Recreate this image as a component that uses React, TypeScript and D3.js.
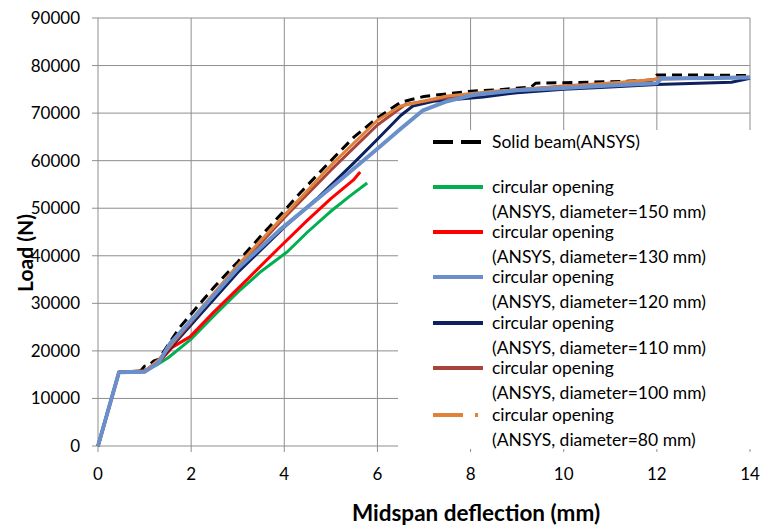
import React from 'react';
import * as d3 from 'd3';

// deflection (mm), load (N)
const solidBeam: [number, number][] = [
  [0, 0], [0.45, 15500], [0.9, 15600], [1.0, 16800], [1.1, 17000], [1.2, 17900], [1.3, 18200],
  [1.76, 25000], [2.5, 33500], [3.0, 38700], [3.5, 44200], [4.0, 49500], [4.34, 53200],
  [5.0, 60000], [5.5, 65000], [6.0, 69000], [6.5, 72300], [7.0, 73500], [8.0, 74600],
  [8.6, 74900], [9.3, 75500], [9.4, 76300], [10.0, 76400], [11.0, 76600], [11.9, 76900],
  [12.0, 78000], [13.0, 78000], [14.0, 77900],
];
const dia150: [number, number][] = [
  [0, 0], [0.45, 15500], [1.0, 15800], [1.25, 17000], [1.5, 18500], [1.98, 22300],
  [2.5, 27500], [3.05, 32800], [3.5, 36700], [4.06, 40800], [4.5, 45000], [4.98, 49200],
  [5.4, 52500], [5.78, 55300],
];
const dia130: [number, number][] = [
  [0, 0], [0.45, 15500], [1.0, 15800], [1.3, 17500], [1.6, 20800], [1.98, 23000],
  [2.47, 28000], [3.2, 35000], [3.9, 41800], [4.5, 47500], [5.0, 52000], [5.48, 55900],
  [5.63, 57600],
];
const dia120: [number, number][] = [
  [0, 0], [0.45, 15500], [1.0, 15600], [1.3, 17500], [1.55, 21600], [2.4, 30700],
  [3.0, 37300], [3.91, 45500], [4.77, 52400], [5.26, 56400], [6.0, 62500], [6.5, 66700],
  [6.98, 70600], [7.5, 72500], [8.05, 73800], [9.0, 74800], [10.0, 75300], [11.0, 75800],
  [12.0, 76300], [12.1, 77300], [14.0, 77500],
];
const dia110: [number, number][] = [
  [0, 0], [0.45, 15500], [1.0, 15600], [1.3, 17800], [2.0, 25500], [3.0, 36500],
  [4.0, 46000], [4.7, 52000], [5.5, 59600], [6.0, 64500], [6.5, 69500], [6.76, 71500],
  [7.2, 72500], [8.27, 73400], [9.0, 74300], [10.0, 75000], [11.0, 75500], [12.0, 76000],
  [13.6, 76500], [14.0, 77300],
];
const dia100: [number, number][] = [
  [0, 0], [0.45, 15500], [1.0, 15700], [1.3, 18000], [2.0, 26000], [3.0, 37500],
  [4.0, 48000], [5.0, 58000], [6.0, 67500], [6.6, 71800], [7.5, 73300], [8.5, 74500],
  [10.0, 75700], [11.5, 76600], [12.0, 77200], [14.0, 77500],
];
const dia80: [number, number][] = [
  [0, 0], [0.45, 15500], [1.0, 15700], [1.3, 18100], [2.0, 26500], [3.0, 38000],
  [4.0, 48500], [5.0, 59000], [6.0, 68500], [6.5, 71500], [7.5, 73600], [8.5, 74600],
  [10.0, 75600], [11.0, 76300], [12.0, 77100], [14.0, 77600],
];

const xTicks = [0, 2, 4, 6, 8, 10, 12, 14];
const yTicks = [0, 10000, 20000, 30000, 40000, 50000, 60000, 70000, 80000, 90000];

const series = [
  { name: 'Solid beam(ANSYS)', sub: '', data: solidBeam, color: '#000000', width: 3, dash: '10,6', legendDash: '20,8' },
  { name: 'circular opening', sub: '(ANSYS, diameter=150 mm)', data: dia150, color: '#00b050', width: 3, dash: '', legendDash: '' },
  { name: 'circular opening', sub: '(ANSYS, diameter=130 mm)', data: dia130, color: '#ff0000', width: 3, dash: '', legendDash: '' },
  { name: 'circular opening', sub: '(ANSYS, diameter=120 mm)', data: dia120, color: '#6a90cc', width: 4, dash: '', legendDash: '' },
  { name: 'circular opening', sub: '(ANSYS, diameter=110 mm)', data: dia110, color: '#0d2060', width: 3, dash: '', legendDash: '' },
  { name: 'circular opening', sub: '(ANSYS, diameter=100 mm)', data: dia100, color: '#a9443c', width: 3, dash: '', legendDash: '' },
  { name: 'circular opening', sub: '(ANSYS, diameter=80 mm)', data: dia80, color: '#e0833a', width: 3, dash: '', legendDash: '30,12,3,20' },
];
// draw order: light blue on top
const drawOrder = [0, 1, 2, 4, 5, 6, 3];

export default function App() {
  const W = 761, H = 527;
  const x = d3.scaleLinear().domain([0, 14]).range([98, 750]);
  const y = d3.scaleLinear().domain([0, 90000]).range([446, 18]);
  const line = d3.line<[number, number]>().x(d => x(d[0])).y(d => y(d[1]));
  const font = 'Lato, "Open Sans", sans-serif';
  const grid = '#8e8e8e';

  const legX = 433, legTextX = 492;
  const legY = [142, 187, 232, 277, 323, 368, 415];

  return (
    <svg width={W} height={H} style={{ position: 'absolute', left: 0, top: 0, background: '#fff' }} fontFamily={font}>
      {/* gridlines */}
      {xTicks.map(t => (
        <line key={'gx' + t} x1={x(t)} x2={x(t)} y1={y(90000)} y2={y(0)} stroke={grid} strokeWidth={1} />
      ))}
      {yTicks.map(t => (
        <line key={'gy' + t} x1={x(0)} x2={x(14)} y1={y(t)} y2={y(t)} stroke={grid} strokeWidth={1} />
      ))}
      {/* tick marks */}
      {xTicks.map(t => (
        <line key={'tx' + t} x1={x(t)} x2={x(t)} y1={y(0)} y2={y(0) + 6} stroke={grid} strokeWidth={1} />
      ))}
      {yTicks.map(t => (
        <line key={'ty' + t} x1={x(0) - 6} x2={x(0)} y1={y(t)} y2={y(t)} stroke={grid} strokeWidth={1} />
      ))}
      {/* legend background covers the grid */}
      <rect x={398} y={130} width={W - 398} height={319} fill="#fff" />

      {/* series */}
      {drawOrder.map(i => {
        const s = series[i];
        return (
          <path key={'s' + i} d={line(s.data) || ''} fill="none" stroke={s.color} strokeWidth={s.width}
            strokeDasharray={s.dash || undefined} strokeLinejoin="round" />
        );
      })}

      {/* tick labels */}
      {xTicks.map(t => (
        <text key={'lx' + t} x={x(t)} y={480} textAnchor="middle" fontSize={17} fill="#000">{t}</text>
      ))}
      {yTicks.map(t => (
        <text key={'ly' + t} x={80} y={y(t) + 6} textAnchor="end" fontSize={17} fill="#000">{t}</text>
      ))}

      {/* axis titles */}
      <text x={476} y={521} textAnchor="middle" fontSize={22.5} fontWeight="bold" fill="#000">Midspan deflection (mm)</text>
      <text transform={`translate(33,253) rotate(-90)`} textAnchor="middle" fontSize={21} fontWeight="bold" fill="#000">Load (N)</text>

      {/* legend */}
      {series.map((s, i) => (
        <g key={'lg' + i}>
          <line x1={legX} x2={legX + 50} y1={legY[i]} y2={legY[i]} stroke={s.color} strokeWidth={4}
            strokeDasharray={s.legendDash || undefined} />
          <text x={legTextX} y={legY[i] + 6} fontSize={17.5} fill="#000">{s.name}</text>
          {s.sub && <text x={legTextX} y={legY[i] + 31} fontSize={17.5} fill="#000">{s.sub}</text>}
        </g>
      ))}
    </svg>
  );
}
